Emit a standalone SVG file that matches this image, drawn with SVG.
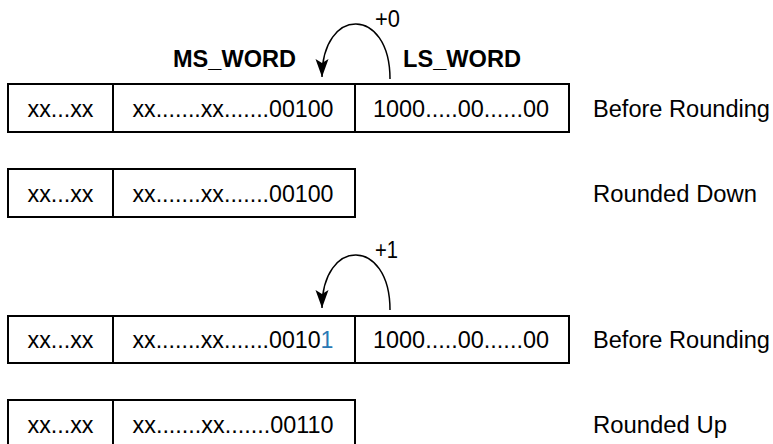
<svg xmlns="http://www.w3.org/2000/svg" width="773" height="444" viewBox="0 0 773 444">
<style>
.box{fill:#fff;stroke:#000;stroke-width:2}
.div{stroke:#000;stroke-width:2}
.t{font-family:"Liberation Sans",Arial,sans-serif;font-size:23.5px;fill:#000}
.m{text-anchor:middle}
.b{font-weight:bold}
.arc{fill:none;stroke:#000;stroke-width:1.5}
.blue{fill:#2a78b4}
</style>
<defs>
<marker id="ah" markerUnits="userSpaceOnUse" markerWidth="22" markerHeight="16" viewBox="-19 -8 20 16" refX="0" refY="0" orient="auto">
<path d="M0,0 L-18,-6.5 L-14,0 L-18,6.5 Z" fill="#000"/>
</marker>
</defs>
<g id="headers">
<text class="t b" x="173" y="67" textLength="123" lengthAdjust="spacingAndGlyphs">MS_WORD</text>
<text class="t b" x="403" y="67" textLength="118" lengthAdjust="spacingAndGlyphs">LS_WORD</text>
</g>
<g id="row1">
<rect class="box" x="8" y="84" width="561" height="48"/>
<line class="div" x1="113" y1="84" x2="113" y2="132"/>
<line class="div" x1="355" y1="84" x2="355" y2="132"/>
<text class="t m" x="60.5" y="117" textLength="66" lengthAdjust="spacingAndGlyphs">xx...xx</text>
<text class="t m" x="233" y="117" textLength="201" lengthAdjust="spacingAndGlyphs">xx.......xx.......00100</text>
<text class="t m" x="461" y="117" textLength="176" lengthAdjust="spacingAndGlyphs">1000.....00......00</text>
<text class="t" x="593" y="117" textLength="177" lengthAdjust="spacingAndGlyphs">Before Rounding</text>
</g>
<g id="row2">
<rect class="box" x="8" y="169" width="347" height="48"/>
<line class="div" x1="113" y1="169" x2="113" y2="217"/>
<text class="t m" x="60.5" y="202" textLength="66" lengthAdjust="spacingAndGlyphs">xx...xx</text>
<text class="t m" x="233" y="202" textLength="201" lengthAdjust="spacingAndGlyphs">xx.......xx.......00100</text>
<text class="t" x="593" y="202" textLength="164" lengthAdjust="spacingAndGlyphs">Rounded Down</text>
</g>
<g id="row3">
<rect class="box" x="8" y="316" width="561" height="47"/>
<line class="div" x1="113" y1="316" x2="113" y2="363"/>
<line class="div" x1="355" y1="316" x2="355" y2="363"/>
<text class="t m" x="60.5" y="348" textLength="66" lengthAdjust="spacingAndGlyphs">xx...xx</text>
<text class="t m" x="233" y="348" textLength="201" lengthAdjust="spacingAndGlyphs">xx.......xx.......0010<tspan class="blue">1</tspan></text>
<text class="t m" x="461" y="348" textLength="176" lengthAdjust="spacingAndGlyphs">1000.....00......00</text>
<text class="t" x="593" y="348" textLength="177" lengthAdjust="spacingAndGlyphs">Before Rounding</text>
</g>
<g id="row4">
<rect class="box" x="8" y="400" width="347" height="48"/>
<line class="div" x1="113" y1="400" x2="113" y2="448"/>
<text class="t m" x="60.5" y="432.5" textLength="66" lengthAdjust="spacingAndGlyphs">xx...xx</text>
<text class="t m" x="233" y="432.5" textLength="201" lengthAdjust="spacingAndGlyphs">xx.......xx.......00110</text>
<text class="t" x="593" y="432.5" textLength="134" lengthAdjust="spacingAndGlyphs">Rounded Up</text>
</g>
<g id="connectors">
<path class="arc" d="M390,79 C390,6 322,6 322,77" marker-end="url(#ah)"/>
<text class="t" x="375" y="27" textLength="25" lengthAdjust="spacingAndGlyphs">+0</text>
<path class="arc" d="M390,310 C390,237 322,237 322,308" marker-end="url(#ah)"/>
<text class="t" x="375" y="258" textLength="23" lengthAdjust="spacingAndGlyphs">+1</text>
</g>
</svg>
